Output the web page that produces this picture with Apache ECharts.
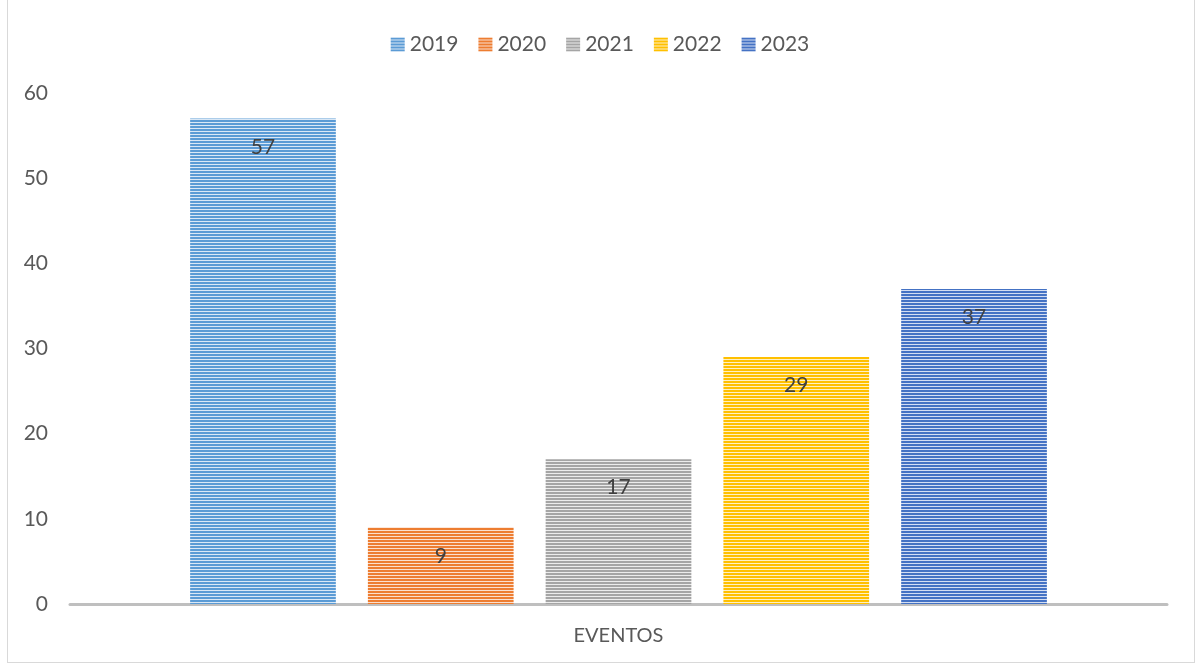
<!DOCTYPE html>
<html lang="es">
<head>
    <meta charset="UTF-8">
    <title>Eventos</title>
    <script src="https://cdn.jsdelivr.net/npm/echarts@6/dist/echarts.min.js"></script>
    <style>
        html, body { margin: 0; padding: 0; background: #fff; }
        #frame {
            position: absolute; left: 7px; top: -2px; width: 1188px; height: 665px;
            border: 1.5px solid #d9d9d9; box-sizing: border-box;
        }
        #main { position: absolute; left: 0; top: 0; width: 1200px; height: 666px; }
    </style>
</head>
<body>
<div id="frame"></div>
<div id="main"></div>
<script type="text/javascript">
    var categories = ['EVENTOS'];
    var years = ['2019', '2020', '2021', '2022', '2023'];
    var values = [57, 9, 17, 29, 37];
    var yTicks = [0, 10, 20, 30, 40, 50, 60];

    var baseColors = ['#5b9bd5', '#ed7d31', '#a5a5a5', '#ffc000', '#4472c4'];
    var lightColors = ['#dae8f6', '#fbe0cf', '#ececec', '#fff0c4', '#d4def2'];

    // striped fill like the original (horizontal lines)
    function stripes(c, light) {
        var cv = document.createElement('canvas');
        cv.width = 4; cv.height = 3;
        var ctx = cv.getContext('2d');
        ctx.fillStyle = light;
        ctx.fillRect(0, 0, 4, 3);
        ctx.fillStyle = c;
        ctx.fillRect(0, 0, 4, 2);
        return { image: cv, repeat: 'repeat' };
    }

    var myChart = echarts.init(document.getElementById('main'), null, { renderer: 'canvas' });

    var series = years.map(function (y, i) {
        return {
            name: y,
            type: 'bar',
            data: [values[i]],
            barGap: '22%',
            barCategoryGap: '21.9%',
            itemStyle: { color: stripes(baseColors[i], lightColors[i]) },
            label: {
                show: true,
                position: 'insideTop',
                distance: 18,
                color: '#404040',
                fontSize: 21,
                fontFamily: 'Lato'
            }
        };
    });

    var option = {
        animation: false,
        textStyle: { fontFamily: 'Lato' },
        legend: {
            top: 29,
            left: 'center',
            itemWidth: 14,
            itemHeight: 14,
            itemGap: 20,
            icon: 'rect',
            textStyle: { fontSize: 21, color: '#595959', fontFamily: 'Lato' },
            data: years
        },
        grid: { left: 70, right: 33, top: 93, bottom: 62 },
        xAxis: {
            type: 'category',
            data: categories,
            axisLine: { lineStyle: { color: '#bfbfbf', width: 3 } },
            axisTick: { show: false },
            axisLabel: { fontSize: 20, color: '#595959', margin: 22, fontFamily: 'Lato' }
        },
        yAxis: {
            type: 'value',
            min: yTicks[0],
            max: yTicks[yTicks.length - 1],
            interval: 10,
            splitLine: { show: false },
            axisLine: { show: false },
            axisTick: { show: false },
            axisLabel: { fontSize: 21, color: '#595959', margin: 22, fontFamily: 'Lato' }
        },
        series: series
    };

    myChart.setOption(option);
</script>
</body>
</html>
